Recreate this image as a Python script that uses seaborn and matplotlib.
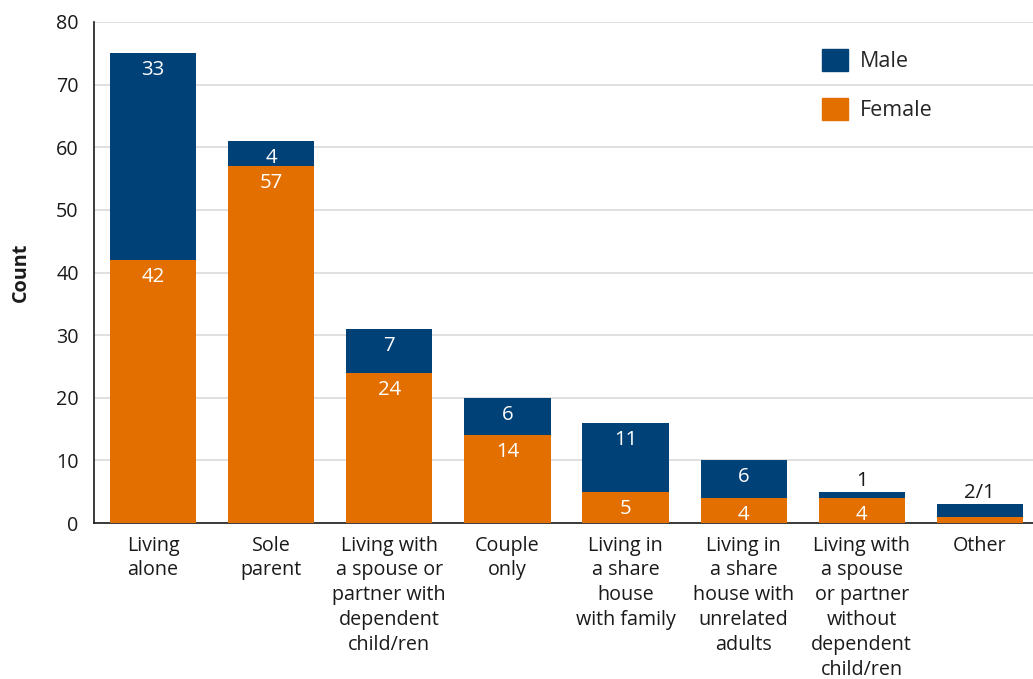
import matplotlib
matplotlib.use("Agg")
import matplotlib.pyplot as plt
import seaborn as sns
import pandas as pd
from matplotlib.patches import Patch

# data
categories = ["Living\nalone", "Sole\nparent",
              "Living with\na spouse or\npartner with\ndependent\nchild/ren",
              "Couple\nonly", "Living in\na share\nhouse\nwith family",
              "Living in\na share\nhouse with\nunrelated\nadults",
              "Living with\na spouse\nor partner\nwithout\ndependent\nchild/ren",
              "Other"]
female = [42, 57, 24, 14, 5, 4, 4, 1]
male = [33, 4, 7, 6, 11, 6, 1, 2]
female_labels = ["42", "57", "24", "14", "5", "4", "4", ""]
male_labels = ["33", "4", "7", "6", "11", "6", "1", "2/1"]

male_col = "#004178"
female_col = "#E36F00"
txt = "#1a1a1a"
fs = 14.2

sns.set_style("white")
plt.rcParams["font.family"] = ["Open Sans", "DejaVu Sans"]
plt.rcParams["font.size"] = fs

df = pd.DataFrame({"cat": categories, "female": female, "male": male})
df["total"] = df["female"] + df["male"]

fig = plt.figure(figsize=(10.33, 6.79), dpi=100)
ax = fig.add_axes([0.091, 0.2297, 0.909, 0.7379])

sns.barplot(data=df, x="cat", y="total", color=male_col, width=0.73,
            saturation=1, linewidth=0, ax=ax, zorder=2)
sns.barplot(data=df, x="cat", y="female", color=female_col, width=0.73,
            saturation=1, linewidth=0, ax=ax, zorder=3)

# value labels
for i in range(len(categories)):
    if female_labels[i]:
        ax.annotate(female_labels[i], (i, df["female"][i]), xytext=(0, -17),
                    textcoords="offset pixels", ha="center", va="center",
                    color="white", fontsize=fs + 0.5, zorder=5)
    if male[i] >= 3:
        ax.annotate(male_labels[i], (i, df["total"][i]), xytext=(0, -17),
                    textcoords="offset pixels", ha="center", va="center",
                    color="white", fontsize=fs + 0.5, zorder=5)
    else:
        ax.annotate(male_labels[i], (i, df["total"][i]), xytext=(0, 1),
                    textcoords="offset pixels", ha="center", va="bottom",
                    color=txt, fontsize=fs + 0.5, zorder=5)

ax.set_ylim(0, 80)
ax.set_xlim(-0.5, 7.45)
ax.set_yticks(range(0, 81, 10))
ax.yaxis.grid(True, color="#dadada", linewidth=1.2, zorder=0)
ax.set_axisbelow(True)
for s in ["top", "right"]:
    ax.spines[s].set_visible(False)
for s in ["left", "bottom"]:
    ax.spines[s].set_color(txt)
    ax.spines[s].set_linewidth(1.2)
ax.tick_params(axis="y", length=8, width=1, color=txt, pad=3,
               labelsize=fs, labelcolor=txt)
ax.tick_params(axis="x", length=0, pad=9, labelsize=fs, labelcolor=txt)
for t in ax.get_xticklabels():
    t.set_linespacing(1.33)
    t.set_verticalalignment("top")
ax.set_xlabel("")
ax.set_ylabel("Count", fontweight="bold", fontsize=fs, labelpad=18, color=txt)

handles = [Patch(color=male_col, label="Male"), Patch(color=female_col, label="Female")]
ax.legend(handles=handles, loc="upper left", bbox_to_anchor=(0.755, 0.985),
          frameon=False, handlelength=1.2, handleheight=1.2, labelspacing=1.2,
          handletextpad=0.55, fontsize=fs + 1.3)

fig.savefig("out.png", dpi=100)
